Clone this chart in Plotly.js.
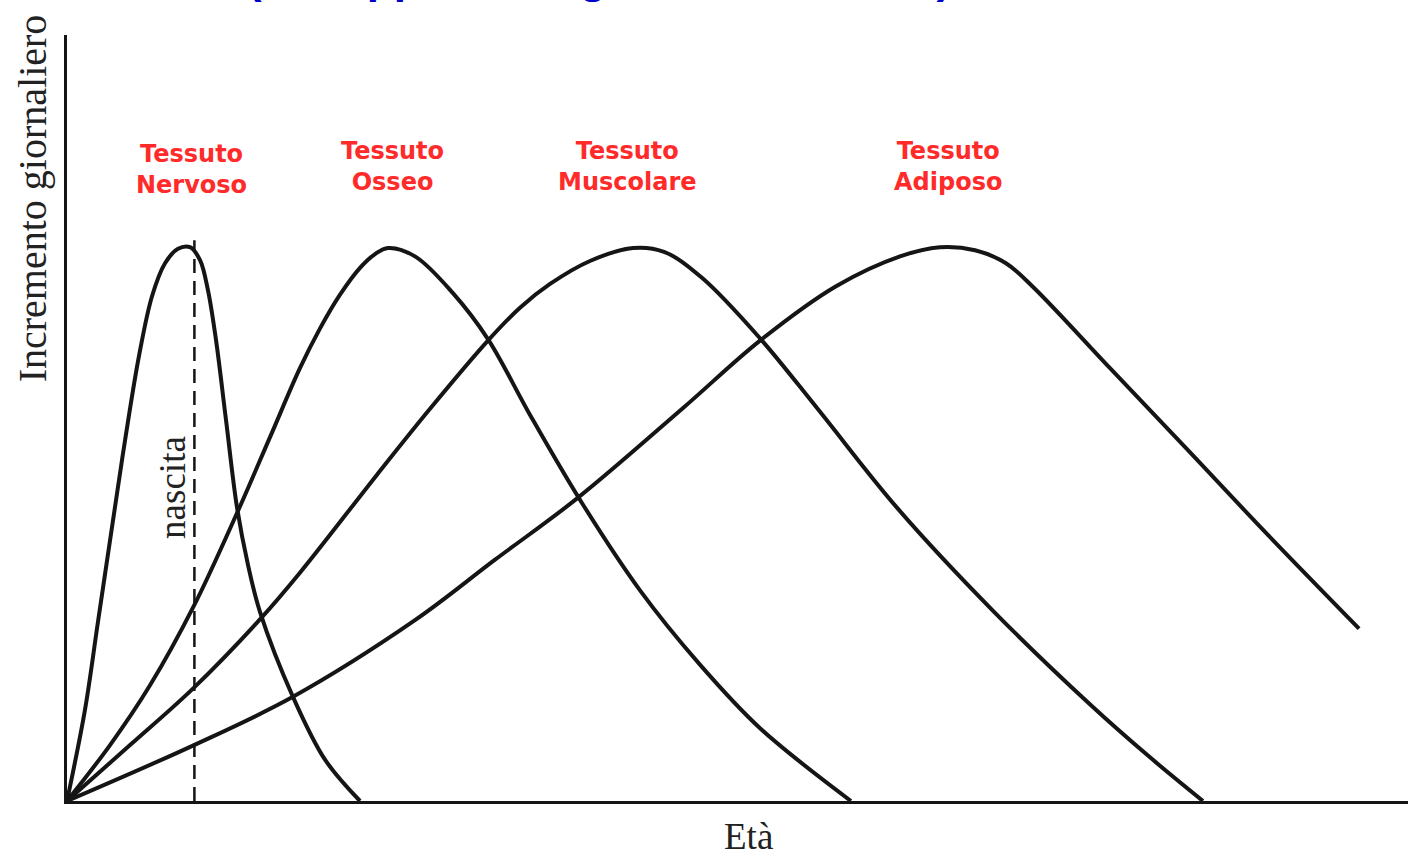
<!DOCTYPE html>
<html>
<head>
<meta charset="utf-8">
<script src="https://cdn.plot.ly/plotly-3.0.1.min.js"></script>
<style>html,body{margin:0;padding:0;background:#fff;}#chart{width:1408px;height:857px;}</style>
</head>
<body>
<div id="chart"></div>
<script>
// Età (arbitrary units 0-100) and incremento giornaliero (arbitrary units 0-100)
const nervosoX = [0, 1.34, 2.31, 3.36, 4.33, 5.37, 6.34, 7.31, 8.28, 9.17, 9.92, 10.51, 11.11, 11.86, 12.68, 13.50, 14.39, 16.85, 19.24, 21.85];
const nervosoY = [0, 11.9, 23.4, 35.8, 47.1, 58.1, 65.9, 70.2, 72.1, 72.3, 70.6, 66.7, 60.2, 49.7, 38.3, 30.8, 24.7, 13.6, 5.4, 0];

const osseoX = [0, 3.21, 6.19, 9.47, 12.68, 15.14, 17.37, 18.87, 20.36, 21.85, 22.97, 23.94, 25.95, 28.78, 31.39, 34.53, 38.26, 42.73, 47.20, 51.68, 58.46];
const osseoY = [0, 7.3, 15.1, 25.5, 37.6, 47.5, 56.5, 61.7, 66.1, 69.6, 71.4, 72.2, 71.1, 66.3, 60.3, 50.4, 39.3, 27.5, 17.8, 9.5, 0];

const muscolareX = [0, 4.70, 9.47, 14.54, 17.37, 23.12, 27.07, 31.39, 33.78, 36.02, 39.0, 42.21, 44.52, 47.35, 51.68, 55.93, 61.89, 69.13, 76.36, 80.76, 84.71];
const muscolareY = [0, 7.3, 14.8, 24.0, 29.8, 42.6, 51.2, 60.1, 64.4, 67.5, 70.5, 72.2, 71.7, 68.3, 60.4, 51.3, 38.3, 24.7, 12.5, 5.7, 0];

const adiposoX = [0, 9.47, 16.85, 25.95, 31.92, 38.11, 45.94, 51.68, 57.35, 62.12, 65.10, 67.71, 70.02, 72.04, 77.78, 83.59, 89.41, 96.35];
const adiposoY = [0, 7.3, 13.6, 23.6, 31.5, 39.6, 51.3, 60.1, 67.2, 71.1, 72.3, 71.9, 70.2, 67.1, 56.5, 45.8, 35.0, 22.5];

const nascitaX = [9.5, 9.5];
const nascitaY = [0, 73.2];

const tessutoLabels = ["Tessuto<br>Nervoso", "Tessuto<br>Osseo", "Tessuto<br>Muscolare", "Tessuto<br>Adiposo"];
const labelX = [9.25, 24.3, 41.8, 65.7];
const labelY = [82.4, 82.8, 82.8, 82.8];

const titleText = "(Sviluppo dei organi e dei tessuti)";
const yTitle = "Incremento giornaliero";
const xTitle = "Età";
const nascitaText = "nascita";

const curveLine = {color: '#151515', width: 4, shape: 'spline', smoothing: 1};
function curve(x, y, name) {
  return {x: x, y: y, name: name, type: 'scatter', mode: 'lines', line: curveLine, hoverinfo: 'skip'};
}

const traces = [
  curve(nervosoX, nervosoY, 'Tessuto Nervoso'),
  curve(osseoX, osseoY, 'Tessuto Osseo'),
  curve(muscolareX, muscolareY, 'Tessuto Muscolare'),
  curve(adiposoX, adiposoY, 'Tessuto Adiposo'),
  {x: nascitaX, y: nascitaY, type: 'scatter', mode: 'lines', name: 'nascita',
   line: {color: '#151515', width: 2.5, dash: '14px,8px'}, hoverinfo: 'skip'}
];

const serif = '"Liberation Serif", "Times New Roman", serif';
const annotations = tessutoLabels.map((t, i) => ({
  x: labelX[i], y: labelY[i], xref: 'x', yref: 'y', text: t, showarrow: false,
  font: {family: '"DejaVu Sans", Verdana, sans-serif', size: 24, color: '#ff2a2a', weight: 'bold'},
  align: 'center', xanchor: 'center', yanchor: 'middle'
}));
annotations.push({
  x: 7.9, y: 41.0, xref: 'x', yref: 'y', text: nascitaText, showarrow: false, textangle: -90,
  font: {family: serif, size: 37, color: '#222'}, xanchor: 'center', yanchor: 'middle'
});
annotations.push({
  x: -0.026, y: 0.787, xref: 'paper', yref: 'paper', text: yTitle, showarrow: false, textangle: -90,
  font: {family: serif, size: 40, color: '#222'}, xanchor: 'center', yanchor: 'middle'
});
annotations.push({
  x: 0.508, y: -0.0457, xref: 'paper', yref: 'paper', text: xTitle, showarrow: false,
  font: {family: serif, size: 37, color: '#222'}, xanchor: 'center', yanchor: 'middle'
});
annotations.push({
  x: 0.397, y: 1.0, xref: 'paper', yref: 'paper', text: titleText, showarrow: false,
  font: {family: '"Liberation Sans", Arial, sans-serif', size: 44, color: '#0000cc', weight: 'bold'},
  xanchor: 'center', yanchor: 'bottom', yshift: 31
});

const layout = {
  width: 1408, height: 857,
  margin: {l: 67, r: 0, t: 35, b: 56, pad: 0},
  paper_bgcolor: '#ffffff', plot_bgcolor: '#ffffff',
  showlegend: false,
  xaxis: {
    range: [0, 100], showgrid: false, zeroline: false, showticklabels: false, ticks: '',
    showline: true, linecolor: '#151515', linewidth: 3
  },
  yaxis: {
    range: [0, 100], showgrid: false, zeroline: false, showticklabels: false, ticks: '',
    showline: true, linecolor: '#151515', linewidth: 3
  },
  annotations: annotations
};

Plotly.newPlot('chart', traces, layout, {displayModeBar: false, staticPlot: true});
</script>
</body>
</html>
